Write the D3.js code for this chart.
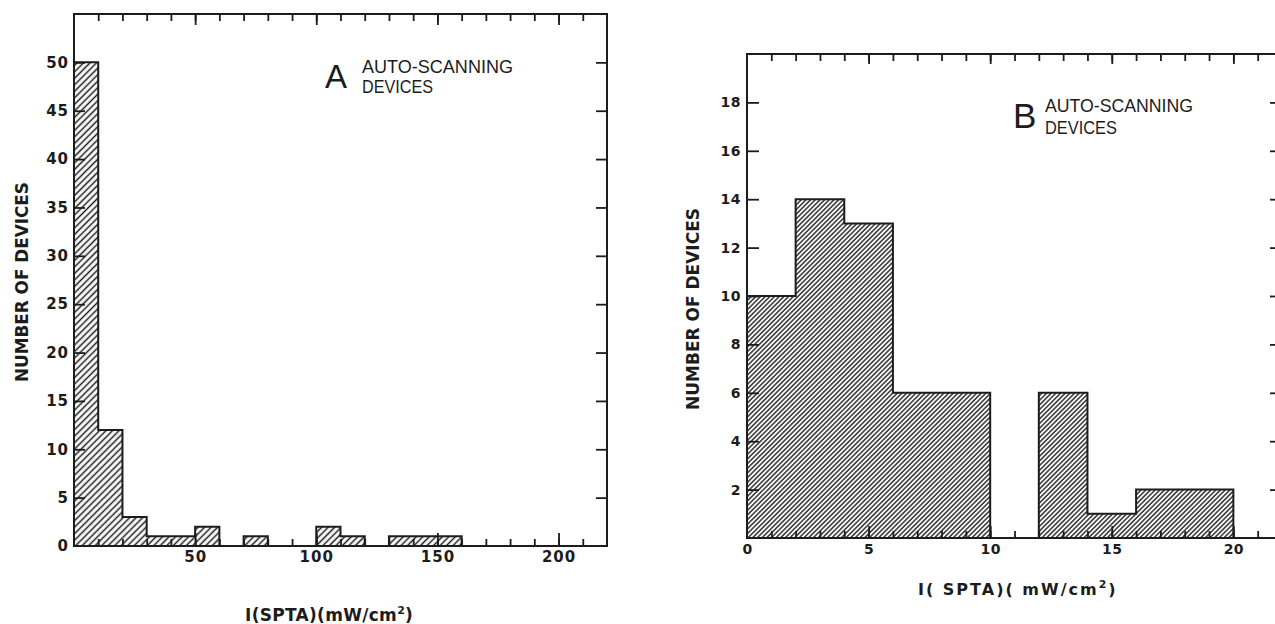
<!DOCTYPE html>
<html>
<head>
<meta charset="utf-8">
<script src="https://cdn.jsdelivr.net/npm/d3@7"></script>
<style>
  html, body { margin: 0; padding: 0; background: #fff; }
  svg { display: block; }
</style>
</head>
<body>
<svg id="chart" width="1275" height="624"></svg>
<script>
// ---------- DATA ----------
// Panel A : bin edges (mW/cm^2) and counts
const edgesA  = [0, 10, 20, 30, 40, 50, 60, 70, 80, 90, 100, 110, 120, 130, 140, 150, 160];
const countsA = [50, 12, 3, 1, 1, 2, 0, 1, 0, 0, 2, 1, 0, 1, 1, 1];
// Panel B
const edgesB  = [0, 2, 4, 6, 8, 10, 12, 14, 16, 18, 20];
const countsB = [10, 14, 13, 6, 6, 0, 6, 1, 2, 2];

// tick labels
const yLabelsA = [0, 5, 10, 15, 20, 25, 30, 35, 40, 45, 50];
const xLabelsA = [50, 100, 150, 200];
const yLabelsB = [2, 4, 6, 8, 10, 12, 14, 16, 18];
const xLabelsB = [0, 5, 10, 15, 20];

const panelLetters = ["A", "B"];
const panelNote = ["AUTO-SCANNING", "DEVICES"];
const yTitle = "NUMBER OF DEVICES";

// ---------- DRAW ----------
const INK = "#1c1c1c";
const svg = d3.select("#chart");
svg.append("rect").attr("width", 1275).attr("height", 624).attr("fill", "#fff");

const defs = svg.append("defs");
function hatch(id, gap, w) {
  const p = defs.append("pattern").attr("id", id)
    .attr("patternUnits", "userSpaceOnUse")
    .attr("width", gap).attr("height", gap)
    .attr("patternTransform", "rotate(45)");
  p.append("line").attr("x1", gap / 2).attr("y1", -1).attr("x2", gap / 2).attr("y2", gap + 1)
    .attr("stroke", INK).attr("stroke-width", w);
}
hatch("hatchA", 4.6, 1.5);
hatch("hatchB", 3.3, 1.35);

const tickFont = "'DejaVu Sans', sans-serif";

function drawPanel(cfg) {
  const g = svg.append("g");
  const x = d3.scaleLinear().domain(cfg.xDomain).range(cfg.xRange);
  const y = d3.scaleLinear().domain(cfg.yDomain).range(cfg.yRange);

  // contiguous non-zero runs -> step outlines
  const runs = [];
  let cur = null;
  cfg.counts.forEach((c, i) => {
    if (c > 0) {
      if (!cur) { cur = []; runs.push(cur); }
      cur.push([cfg.edges[i], c]);
      cur.end = [cfg.edges[i + 1], c];
    } else cur = null;
  });
  const area = d3.area()
    .x(d => x(d[0])).y0(y(0)).y1(d => y(d[1]))
    .curve(d3.curveStepAfter);
  runs.forEach(r => {
    const pts = r.concat([r.end]);
    g.append("path").attr("d", area(pts))
      .attr("fill", `url(#${cfg.hatch})`)
      .attr("stroke", INK).attr("stroke-width", 2)
      .attr("stroke-linejoin", "miter");
  });

  const [x0, x1] = cfg.xRange, [yb, yt] = cfg.yRange;
  const style = sel => {
    sel.select(".domain").remove();
    sel.selectAll(".tick line").attr("stroke", INK).attr("stroke-width", 1.8);
    sel.selectAll(".tick text").attr("fill", INK)
      .style("font-family", tickFont).style("font-weight", "bold")
      .style("font-size", cfg.tickFontSize + "px").style("letter-spacing", cfg.tickSpacing + "px");
  };

  // bottom ticks
  g.append("g").attr("transform", `translate(0,${yb})`)
    .call(d3.axisBottom(x).tickValues(cfg.xMinor).tickSize(-cfg.minorLen).tickFormat(""))
    .call(style);
  g.append("g").attr("transform", `translate(0,${yb})`)
    .call(d3.axisBottom(x).tickValues(cfg.xMajor).tickSize(-cfg.majorLen).tickFormat(""))
    .call(style);
  g.append("g").attr("transform", `translate(0,${yb})`)
    .call(d3.axisBottom(x).tickValues(cfg.xLabels).tickSize(0).tickPadding(cfg.xPad).tickFormat(d3.format("d")))
    .call(style);
  // top ticks
  g.append("g").attr("transform", `translate(0,${yt})`)
    .call(d3.axisTop(x).tickValues(cfg.xMinor).tickSize(-cfg.minorLen).tickFormat(""))
    .call(style);
  g.append("g").attr("transform", `translate(0,${yt})`)
    .call(d3.axisTop(x).tickValues(cfg.xMajor).tickSize(-cfg.majorLen + 2).tickFormat(""))
    .call(style);
  // left ticks + labels
  g.append("g").attr("transform", `translate(${x0},0)`)
    .call(d3.axisLeft(y).tickValues(cfg.yTicks).tickSize(-cfg.yLen).tickFormat(""))
    .call(style);
  g.append("g").attr("transform", `translate(${x0},0)`)
    .call(d3.axisLeft(y).tickValues(cfg.yLabels).tickSize(0).tickPadding(cfg.yPad).tickFormat(d3.format("d")))
    .call(style);
  // right ticks
  g.append("g").attr("transform", `translate(${x1},0)`)
    .call(d3.axisRight(y).tickValues(cfg.yTicks).tickSize(-cfg.yLen).tickFormat(""))
    .call(style);

  // frame
  g.append("rect").attr("x", x0).attr("y", yt)
    .attr("width", x1 - x0).attr("height", yb - yt)
    .attr("fill", "none").attr("stroke", INK).attr("stroke-width", 2);

  // y title
  g.append("text")
    .attr("transform", `translate(${cfg.yTitlePos[0]},${cfg.yTitlePos[1]}) rotate(-90)`)
    .attr("text-anchor", "middle")
    .attr("textLength", cfg.yTitleLen).attr("lengthAdjust", "spacingAndGlyphs")
    .attr("fill", INK)
    .style("font-family", tickFont).style("font-weight", "bold").style("font-size", "17px")
    .text(yTitle);

  // x title  I(SPTA)(mW/cm²)
  const xt = g.append("text")
    .attr("x", cfg.xTitlePos[0]).attr("y", cfg.xTitlePos[1])
    .attr("fill", INK)
    .style("font-family", tickFont).style("font-weight", "bold").style("font-size", cfg.xTitleSize + "px")
    .style("letter-spacing", cfg.xTitleSpacing + "px");
  xt.append("tspan").text(cfg.xTitleParts[0]);
  xt.append("tspan").attr("dy", -7).style("font-size", "11px").text("2");
  xt.append("tspan").attr("dy", 7).text(cfg.xTitleParts[1]);

  // panel letter & note
  g.append("text").attr("x", cfg.letterPos[0]).attr("y", cfg.letterPos[1])
    .attr("fill", INK)
    .style("font-family", "'Liberation Sans', Arial, sans-serif")
    .style("font-size", cfg.letterSize + "px")
    .text(cfg.letter);
  panelNote.forEach((t, i) => {
    g.append("text").attr("x", cfg.notePos[0]).attr("y", cfg.notePos[1] + i * cfg.noteGap)
      .attr("fill", INK)
      .attr("textLength", cfg.noteLens[i]).attr("lengthAdjust", "spacingAndGlyphs")
      .style("font-family", "'Liberation Sans', Arial, sans-serif")
      .style("font-size", "19px")
      .text(t);
  });
}

drawPanel({
  edges: edgesA, counts: countsA, hatch: "hatchA",
  xDomain: [0, 220], xRange: [74, 607],
  yDomain: [0, 55], yRange: [546, 14],
  xMinor: d3.range(10, 220, 10), xMajor: [50, 100, 150, 200], xLabels: xLabelsA,
  yTicks: yLabelsA.slice(1), yLabels: yLabelsA,
  minorLen: 7, majorLen: 13, yLen: 11, xPad: 5, yPad: 5,
  tickFontSize: 15, tickSpacing: 1,
  yTitlePos: [28, 282], yTitleLen: 200,
  xTitlePos: [245, 621], xTitleSize: 17, xTitleParts: ["I(SPTA)(mW/cm", ")"], xTitleSpacing: 0.3,
  letter: panelLetters[0], letterPos: [325, 88], letterSize: 33,
  notePos: [362, 73], noteGap: 20, noteLens: [151, 71]
});

drawPanel({
  edges: edgesB, counts: countsB, hatch: "hatchB",
  xDomain: [0, 22], xRange: [747, 1282],
  yDomain: [0, 20], yRange: [538, 54],
  xMinor: d3.range(1, 22, 1), xMajor: [5, 10, 15, 20], xLabels: xLabelsB,
  yTicks: yLabelsB, yLabels: yLabelsB,
  minorLen: 7, majorLen: 12, yLen: 12, xPad: 6, yPad: 6,
  tickFontSize: 14, tickSpacing: 0.5,
  yTitlePos: [699, 309], yTitleLen: 202,
  xTitlePos: [918, 595], xTitleSize: 16, xTitleParts: ["I( SPTA)( mW/cm", ")"], xTitleSpacing: 2,
  letter: panelLetters[1], letterPos: [1013, 128], letterSize: 35,
  notePos: [1045, 112], noteGap: 22, noteLens: [148, 72]
});
</script>
</body>
</html>
